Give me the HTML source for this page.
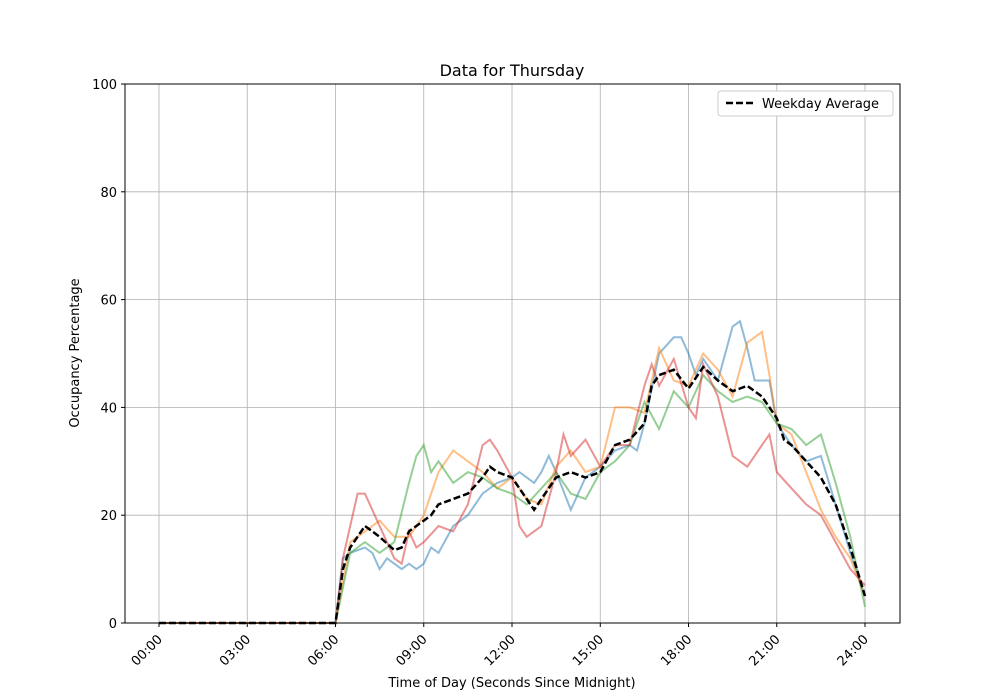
<!DOCTYPE html>
<html><head><meta charset="utf-8"><style>body{margin:0;background:#fff}svg{display:block;font-family:"DejaVu Sans","Liberation Sans",sans-serif}</style></head>
<body>
<svg id="s" width="1000" height="700" xmlns="http://www.w3.org/2000/svg">
<rect width="1000" height="700" fill="#fff"/>
<g id="grid" stroke="#b0b0b0" stroke-width="0.8"></g>
<g id="series" fill="none" stroke-width="2"></g>
<rect x="125" y="84" width="775" height="539" fill="none" stroke="#000" stroke-width="1"/>
<g id="ticks" font-size="13" fill="#000"></g>
<text x="512" y="76" font-size="16" text-anchor="middle">Data for Thursday</text>
<text x="512" y="687" font-size="13" text-anchor="middle">Time of Day (Seconds Since Midnight)</text>
<text transform="translate(79,353) rotate(-90)" font-size="13" text-anchor="middle">Occupancy Percentage</text>
<rect x="718" y="91" width="175" height="25" rx="3" fill="#fff" stroke="#ccc"/>
<line x1="726" y1="103" x2="754" y2="103" stroke="#000" stroke-width="2.5" stroke-dasharray="7,3"/>
<text x="762" y="108" font-size="13">Weekday Average</text>
</svg>
<script>
const X=h=>159+h*29.417, Y=v=>623-v*5.39;
const g=document.getElementById('grid'),t=document.getElementById('ticks'),S=document.getElementById('series');
const ns='http://www.w3.org/2000/svg';
function el(p,n,a,txt){const e=document.createElementNS(ns,n);for(const k in a)e.setAttribute(k,a[k]);if(txt!=null)e.textContent=txt;p.appendChild(e);return e;}
for(let i=0;i<=8;i++){const x=X(i*3);el(g,'line',{x1:x,x2:x,y1:84,y2:623});el(t,'line',{x1:x,x2:x,y1:623,y2:627,stroke:'#000'});
const lb=String(i*3).padStart(2,'0')+':00';el(t,'text',{x:x+4,y:640,'text-anchor':'end',transform:`rotate(-45 ${x+4} 640)`},lb);}
for(let v=0;v<=100;v+=20){const y=Y(v);el(g,'line',{x1:125,x2:900,y1:y,y2:y});el(t,'line',{x1:121,x2:125,y1:y,y2:y,stroke:'#000'});el(t,'text',{x:117,y:y+5,'text-anchor':'end'},v);}
function pts(a){let s=[[0,0],[6,0]].concat(a);return s.map(p=>X(p[0]).toFixed(1)+','+Y(p[1]).toFixed(1)).join(' ');}
const blue=[[6.25,12],[6.5,13],[7,14],[7.25,13],[7.5,10],[7.75,12],[8,11],[8.25,10],[8.5,11],[8.75,10],[9,11],[9.25,14],[9.5,13],[10,18],[10.5,20],[11,24],[11.5,26],[12,27],[12.25,28],[12.75,26],[13,28],[13.25,31],[13.5,28],[14,21],[14.5,27],[15,29],[15.5,32],[16,33],[16.25,32],[16.5,37],[17,50],[17.5,53],[17.75,53],[18,50],[18.25,46],[18.5,49],[19,45],[19.5,55],[19.75,56],[20,51],[20.25,45],[20.75,45],[21,37],[21.5,33],[22,30],[22.5,31],[23,22],[23.5,13],[24,5]];
const orange=[[6.5,15],[7,17],[7.5,19],[8,16],[8.5,16],[9,20],[9.5,28],[10,32],[10.5,30],[11,28],[11.5,25],[12,27],[12.5,23],[13,22],[13.5,29],[14,32],[14.5,28],[15,29],[15.5,40],[16,40],[16.5,39],[17,51],[17.5,45],[18,44],[18.5,50],[19,47],[19.5,42],[20,52],[20.5,54],[20.75,46],[21,37],[21.5,35],[22,28],[22.5,21],[23,16],[23.5,12],[24,5]];
const green=[[6.5,13],[7,15],[7.5,13],[8,15],[8.5,26],[8.75,31],[9,33],[9.25,28],[9.5,30],[10,26],[10.5,28],[11,27],[11.5,25],[12,24],[12.5,22],[13,25],[13.5,28],[14,24],[14.5,23],[15,28],[15.5,30],[16,33],[16.5,41],[17,36],[17.5,43],[18,40],[18.5,46],[19,43],[19.5,41],[20,42],[20.5,41],[21,37],[21.5,36],[22,33],[22.5,35],[23,26],[23.5,16],[24,3]];
const red=[[6.25,12],[6.5,18],[6.75,24],[7,24],[7.5,18],[8,12],[8.25,11],[8.5,17],[8.75,14],[9,15],[9.5,18],[10,17],[10.5,22],[11,33],[11.25,34],[11.5,32],[12,27],[12.25,18],[12.5,16],[13,18],[13.5,28],[13.75,35],[14,31],[14.5,34],[15,29],[15.5,33],[16,33],[16.5,44],[16.75,48],[17,44],[17.5,49],[18,40],[18.25,38],[18.5,48],[19,42],[19.5,31],[19.75,30],[20,29],[20.5,33],[20.75,35],[21,28],[21.5,25],[22,22],[22.5,20],[23,15],[23.5,10],[24,7]];
const avg=[[6.25,10],[6.5,14],[7,18],[7.25,17],[7.5,16],[8,13.5],[8.25,14],[8.5,17],[9,19],[9.25,20],[9.5,22],[10,23],[10.5,24],[11,27],[11.25,29],[11.5,28],[12,27],[12.5,23],[12.75,21],[13,23],[13.5,27],[14,28],[14.5,27],[15,28],[15.5,33],[16,34],[16.5,37],[16.75,44],[17,46],[17.5,47],[18,43.5],[18.5,47.5],[19,45],[19.5,43],[20,44],[20.5,42],[21,38],[21.25,34],[21.5,33],[22,30],[22.5,27],[23,22],[23.5,14],[24,5]];
[[blue,'#1f77b4'],[orange,'#ff7f0e'],[green,'#2ca02c'],[red,'#d62728']].forEach(([d,c])=>el(S,'polyline',{points:pts(d),stroke:c,'stroke-opacity':0.5}));
el(S,'polyline',{points:pts(avg),stroke:'#000','stroke-width':2.5,'stroke-dasharray':'7,3'});
</script>
</body></html>
